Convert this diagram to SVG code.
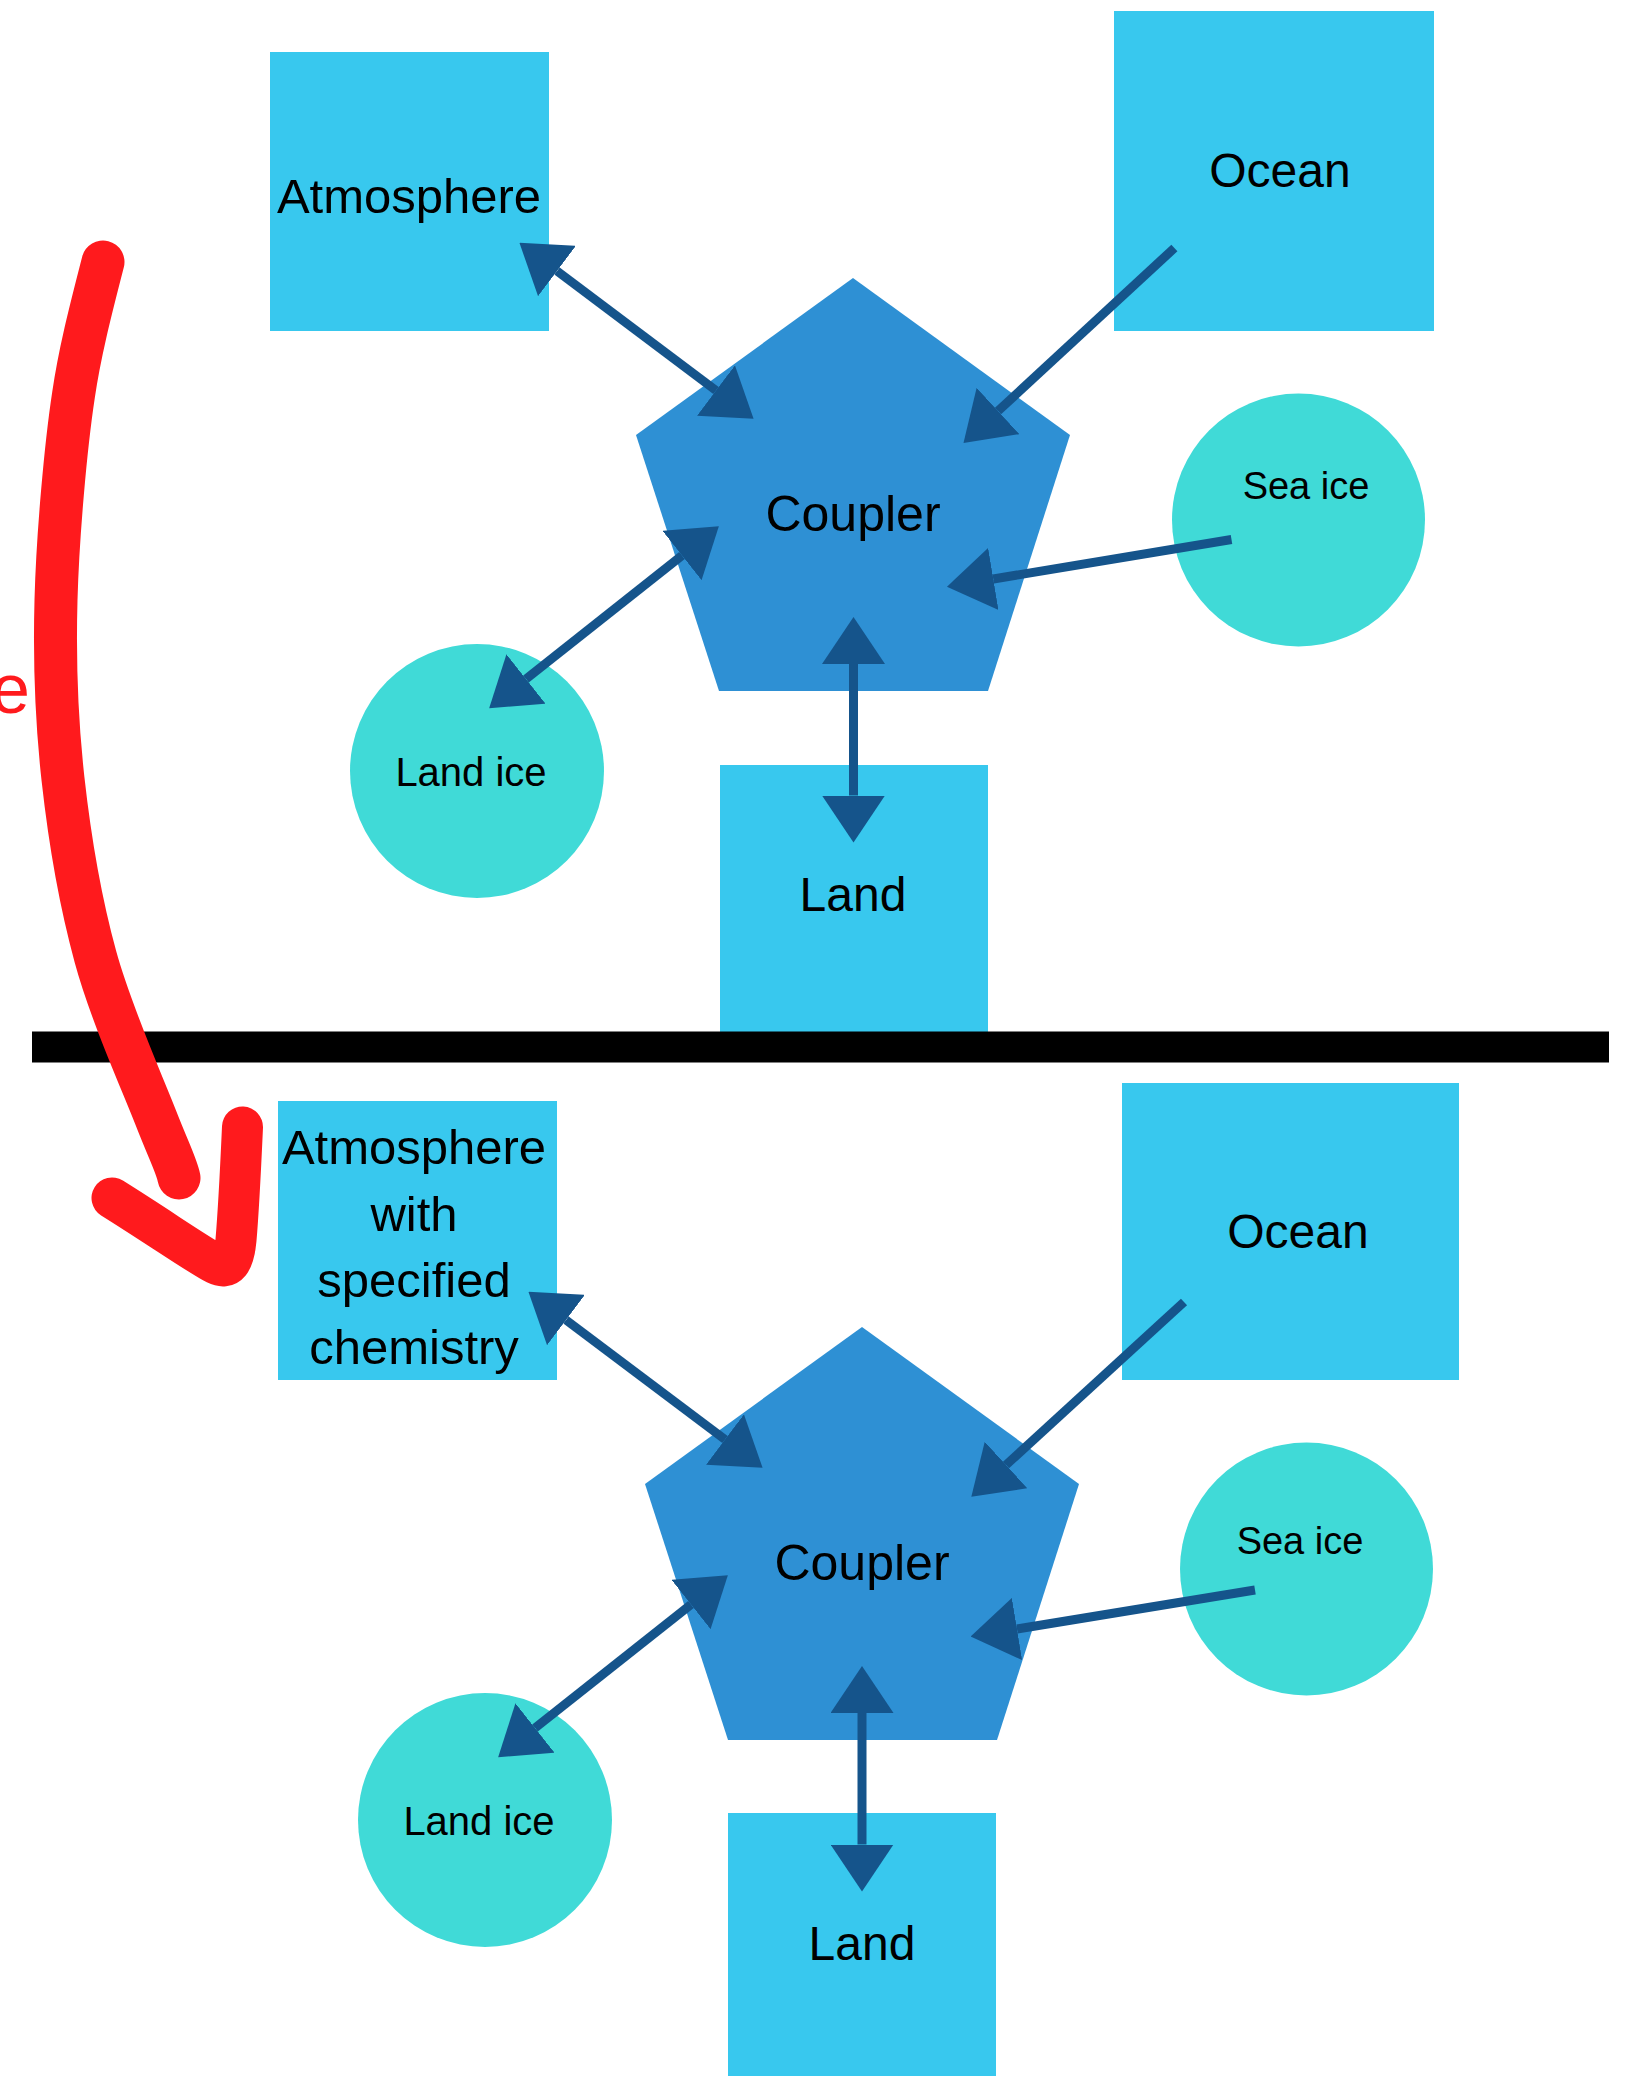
<svg xmlns="http://www.w3.org/2000/svg" width="1629" height="2076" viewBox="0 0 1629 2076">
<style>
.box{fill:#38C8EE}
.pent{fill:#2E90D4}
.circ{fill:#40DAD7}
.lbl{font-family:"Liberation Sans",Arial,sans-serif;fill:#000;text-anchor:middle}
.big{font-size:48px}
.atm{font-size:49px}
.cpl{font-size:50px}
.small{font-size:38px}
.small2{font-size:40px}
.conn{stroke:#15548B;stroke-width:9;fill:none}
.red{stroke:#FF1A1D;fill:none;stroke-linecap:round;stroke-linejoin:round}
</style>
<defs>
<marker id="head" viewBox="0 0 47 63" refX="0" refY="31.5" markerWidth="47" markerHeight="63" markerUnits="userSpaceOnUse" orient="auto-start-reverse">
<path d="M0,0 L47,31.5 L0,63 Z" fill="#15548B"/>
</marker>
</defs>
<rect width="1629" height="2076" fill="#fff"/>

<!-- Top diagram nodes -->
<g id="top-atmosphere"><rect class="box" x="270" y="52" width="279" height="279"/><text class="lbl atm" x="409" y="213">Atmosphere</text></g>
<g id="top-ocean"><rect class="box" x="1114" y="11" width="320" height="320"/><text class="lbl big" x="1280" y="187">Ocean</text></g>
<g id="top-coupler"><polygon class="pent" points="853,278 1070,435 988,691 719,691 636,435"/><text class="lbl cpl" x="853" y="531">Coupler</text></g>
<g id="top-seaice"><circle class="circ" cx="1298.5" cy="520" r="126.5"/><text class="lbl small" x="1306" y="499">Sea ice</text></g>
<g id="top-landice"><circle class="circ" cx="477" cy="771" r="127"/><text class="lbl small2" x="471" y="786">Land ice</text></g>
<g id="top-land"><rect class="box" x="720" y="765" width="268" height="267"/><text class="lbl big" x="853" y="911">Land</text></g>

<!-- Bottom diagram nodes -->
<g id="bot-atmosphere"><rect class="box" x="278" y="1101" width="279" height="279"/>
<text class="lbl atm" x="414" y="1164">Atmosphere</text>
<text class="lbl atm" x="414" y="1231">with</text>
<text class="lbl atm" x="414" y="1297">specified</text>
<text class="lbl atm" x="414" y="1364">chemistry</text></g>
<g id="bot-ocean"><rect class="box" x="1122" y="1083" width="337" height="297"/><text class="lbl big" x="1298" y="1248">Ocean</text></g>
<g id="bot-coupler"><polygon class="pent" points="862,1327 1079,1484 997,1740 728,1740 645,1484"/><text class="lbl cpl" x="862" y="1580">Coupler</text></g>
<g id="bot-seaice"><circle class="circ" cx="1306.5" cy="1569" r="126.5"/><text class="lbl small" x="1300" y="1554">Sea ice</text></g>
<g id="bot-landice"><circle class="circ" cx="485" cy="1820" r="127"/><text class="lbl small2" x="479" y="1835">Land ice</text></g>
<g id="bot-land"><rect class="box" x="728" y="1813" width="268" height="263"/><text class="lbl big" x="862" y="1960">Land</text></g>

<!-- Connectors -->
<g id="connectors">
<line class="conn" x1="557" y1="271" x2="716" y2="390.5" marker-start="url(#head)" marker-end="url(#head)"/>
<line class="conn" x1="1174.4" y1="248" x2="998" y2="411" marker-end="url(#head)"/>
<line class="conn" x1="1231.5" y1="539.5" x2="993.3" y2="579" marker-end="url(#head)"/>
<line class="conn" x1="682" y1="555.5" x2="526" y2="679" marker-start="url(#head)" marker-end="url(#head)"/>
<line class="conn" x1="853.5" y1="664" x2="853.5" y2="795.5" marker-start="url(#head)" marker-end="url(#head)"/>

<line class="conn" x1="566" y1="1320" x2="725" y2="1439.5" marker-start="url(#head)" marker-end="url(#head)"/>
<line class="conn" x1="1184" y1="1302" x2="1006" y2="1465" marker-end="url(#head)"/>
<line class="conn" x1="1255" y1="1590" x2="1017" y2="1629" marker-end="url(#head)"/>
<line class="conn" x1="691" y1="1604.5" x2="535" y2="1728" marker-start="url(#head)" marker-end="url(#head)"/>
<line class="conn" x1="862" y1="1713" x2="862" y2="1844.5" marker-start="url(#head)" marker-end="url(#head)"/>
</g>

<!-- Divider -->
<rect x="32" y="1031.5" width="1577" height="31" fill="#000"/>

<!-- Red annotation -->
<g id="annotation">
<text x="30" y="713" font-family="Liberation Sans, Arial, sans-serif" font-size="70" fill="#FF1A1D" text-anchor="end">e</text>
<path class="red" stroke-width="43" d="M103,262 C92,305 80,350 73.5,395 C65.7,446.3 57.75,535.2 56,600 C54.25,664.8 56.4,719.5 63,779 C69.6,838.5 80.1,900.7 95.5,957 C110.9,1013.3 141.25,1080.5 155.5,1117 C169.75,1153.5 176.75,1166.2 179,1178"/>
<path class="red" stroke-width="41" d="M112,1198 C160,1228 200,1256 216,1264 C228,1270 234,1262 236,1240 C239,1205 241,1160 242.5,1127"/>
</g>
</svg>
